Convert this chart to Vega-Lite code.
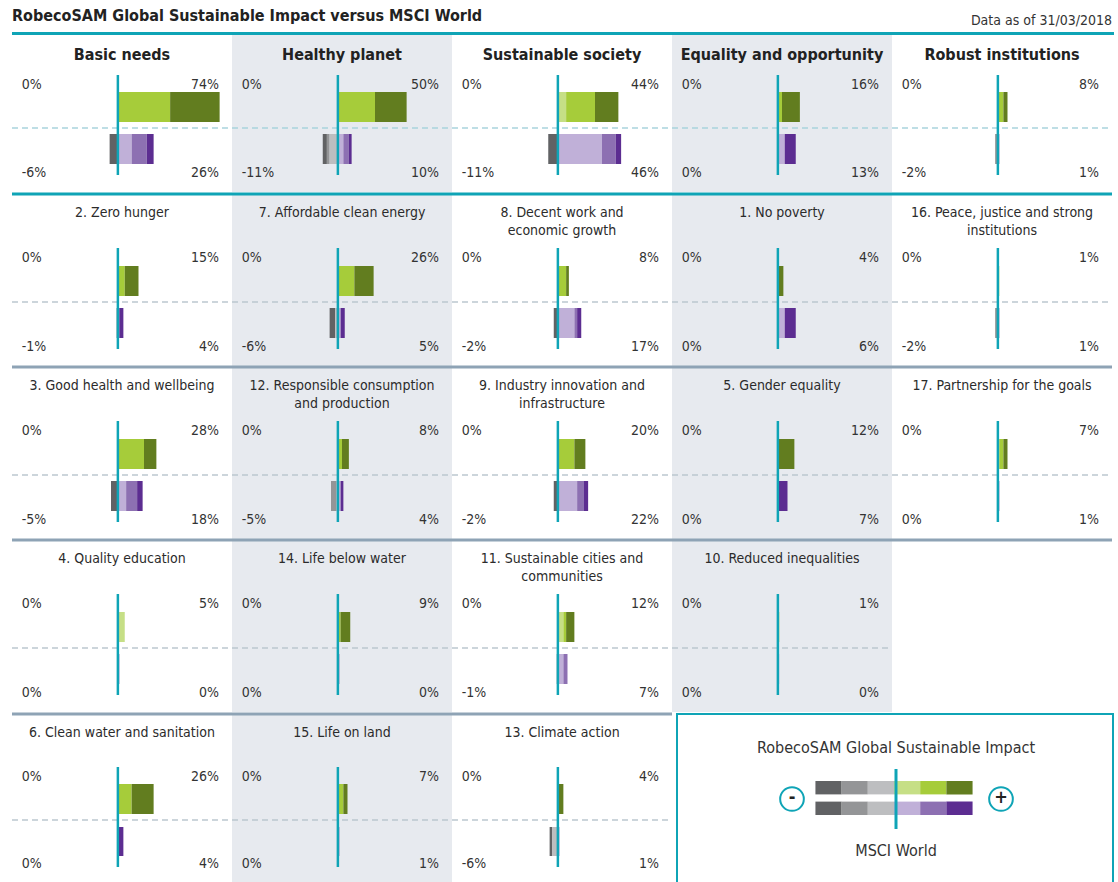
{
  "$schema": "https://vega.github.io/schema/vega-lite/v6.json",
  "padding": {"left": 10, "top": 0, "right": 0, "bottom": 0},
  "background": "white",
  "spacing": 0,
  "datasets": {
    "panels": [
      {"r":1,"c":1,"t":"Basic needs","a":"0%","b":"74%","m":"-6%","n":"26%"},
      {"r":1,"c":2,"t":"Healthy planet","a":"0%","b":"50%","m":"-11%","n":"10%"},
      {"r":1,"c":3,"t":"Sustainable society","a":"0%","b":"44%","m":"-11%","n":"46%"},
      {"r":1,"c":4,"t":"Equality and opportunity","a":"0%","b":"16%","m":"0%","n":"13%"},
      {"r":1,"c":5,"t":"Robust institutions","a":"0%","b":"8%","m":"-2%","n":"1%"},
      {"r":2,"c":1,"t":"2. Zero hunger","a":"0%","b":"15%","m":"-1%","n":"4%"},
      {"r":2,"c":2,"t":"7. Affordable clean energy","a":"0%","b":"26%","m":"-6%","n":"5%"},
      {"r":2,"c":3,"t":"8. Decent work and\neconomic growth","a":"0%","b":"8%","m":"-2%","n":"17%"},
      {"r":2,"c":4,"t":"1. No poverty","a":"0%","b":"4%","m":"0%","n":"6%"},
      {"r":2,"c":5,"t":"16. Peace, justice and strong\ninstitutions","a":"0%","b":"1%","m":"-2%","n":"1%"},
      {"r":3,"c":1,"t":"3. Good health and wellbeing","a":"0%","b":"28%","m":"-5%","n":"18%"},
      {"r":3,"c":2,"t":"12. Responsible consumption\nand production","a":"0%","b":"8%","m":"-5%","n":"4%"},
      {"r":3,"c":3,"t":"9. Industry innovation and\ninfrastructure","a":"0%","b":"20%","m":"-2%","n":"22%"},
      {"r":3,"c":4,"t":"5. Gender equality","a":"0%","b":"12%","m":"0%","n":"7%"},
      {"r":3,"c":5,"t":"17. Partnership for the goals","a":"0%","b":"7%","m":"0%","n":"1%"},
      {"r":4,"c":1,"t":"4. Quality education","a":"0%","b":"5%","m":"0%","n":"0%"},
      {"r":4,"c":2,"t":"14. Life below water","a":"0%","b":"9%","m":"0%","n":"0%"},
      {"r":4,"c":3,"t":"11. Sustainable cities and\ncommunities","a":"0%","b":"12%","m":"-1%","n":"7%"},
      {"r":4,"c":4,"t":"10. Reduced inequalities","a":"0%","b":"1%","m":"0%","n":"0%"},
      {"r":4,"c":5,"t":""},
      {"r":5,"c":1,"t":"6. Clean water and sanitation","a":"0%","b":"26%","m":"0%","n":"4%"},
      {"r":5,"c":2,"t":"15. Life on land","a":"0%","b":"7%","m":"0%","n":"1%"},
      {"r":5,"c":3,"t":"13. Climate action","a":"0%","b":"4%","m":"-6%","n":"1%"},

      {"r":1,"c":1,"s":"R","k":"g2","v":38},{"r":1,"c":1,"s":"R","k":"g3","v":36},
      {"r":1,"c":1,"s":"M","k":"n3","v":-6},{"r":1,"c":1,"s":"M","k":"u1","v":10},{"r":1,"c":1,"s":"M","k":"u2","v":11},{"r":1,"c":1,"s":"M","k":"u3","v":5},
      {"r":1,"c":2,"s":"R","k":"g2","v":27},{"r":1,"c":2,"s":"R","k":"g3","v":23},
      {"r":1,"c":2,"s":"M","k":"n3","v":-3},{"r":1,"c":2,"s":"M","k":"n2","v":-2},{"r":1,"c":2,"s":"M","k":"n1","v":-6},{"r":1,"c":2,"s":"M","k":"u1","v":4},{"r":1,"c":2,"s":"M","k":"u2","v":4},{"r":1,"c":2,"s":"M","k":"u3","v":2},
      {"r":1,"c":3,"s":"R","k":"g1","v":6},{"r":1,"c":3,"s":"R","k":"g2","v":21},{"r":1,"c":3,"s":"R","k":"g3","v":17},
      {"r":1,"c":3,"s":"M","k":"n3","v":-7},{"r":1,"c":3,"s":"M","k":"u1","v":32},{"r":1,"c":3,"s":"M","k":"u2","v":10},{"r":1,"c":3,"s":"M","k":"u3","v":4},
      {"r":1,"c":4,"s":"R","k":"g2","v":3},{"r":1,"c":4,"s":"R","k":"g3","v":13},
      {"r":1,"c":4,"s":"M","k":"u1","v":5},{"r":1,"c":4,"s":"M","k":"u3","v":8},
      {"r":1,"c":5,"s":"R","k":"g2","v":4},{"r":1,"c":5,"s":"R","k":"g3","v":3},
      {"r":1,"c":5,"s":"M","k":"n2","v":-2},{"r":1,"c":5,"s":"M","k":"u3","v":1},
      {"r":2,"c":1,"s":"R","k":"g2","v":5},{"r":2,"c":1,"s":"R","k":"g3","v":10},
      {"r":2,"c":1,"s":"M","k":"n2","v":-1},{"r":2,"c":1,"s":"M","k":"u1","v":1},{"r":2,"c":1,"s":"M","k":"u3","v":3},
      {"r":2,"c":2,"s":"R","k":"g2","v":12},{"r":2,"c":2,"s":"R","k":"g3","v":14},
      {"r":2,"c":2,"s":"M","k":"n3","v":-4},{"r":2,"c":2,"s":"M","k":"n1","v":-2},{"r":2,"c":2,"s":"M","k":"u1","v":2},{"r":2,"c":2,"s":"M","k":"u3","v":3},
      {"r":2,"c":3,"s":"R","k":"g2","v":6},{"r":2,"c":3,"s":"R","k":"g3","v":2},
      {"r":2,"c":3,"s":"M","k":"n3","v":-3},{"r":2,"c":3,"s":"M","k":"u1","v":12},{"r":2,"c":3,"s":"M","k":"u2","v":2},{"r":2,"c":3,"s":"M","k":"u3","v":3},
      {"r":2,"c":4,"s":"R","k":"g3","v":4},
      {"r":2,"c":4,"s":"M","k":"u1","v":5},{"r":2,"c":4,"s":"M","k":"u3","v":8},
      {"r":2,"c":5,"s":"R","k":"g2","v":1},
      {"r":2,"c":5,"s":"M","k":"n2","v":-2},{"r":2,"c":5,"s":"M","k":"u3","v":1},
      {"r":3,"c":1,"s":"R","k":"g2","v":19},{"r":3,"c":1,"s":"R","k":"g3","v":9},
      {"r":3,"c":1,"s":"M","k":"n3","v":-5},{"r":3,"c":1,"s":"M","k":"u1","v":6},{"r":3,"c":1,"s":"M","k":"u2","v":8},{"r":3,"c":1,"s":"M","k":"u3","v":4},
      {"r":3,"c":2,"s":"R","k":"g2","v":3},{"r":3,"c":2,"s":"R","k":"g3","v":5},
      {"r":3,"c":2,"s":"M","k":"n2","v":-4},{"r":3,"c":2,"s":"M","k":"n1","v":-1},{"r":3,"c":2,"s":"M","k":"u1","v":2},{"r":3,"c":2,"s":"M","k":"u3","v":2},
      {"r":3,"c":3,"s":"R","k":"g2","v":12},{"r":3,"c":3,"s":"R","k":"g3","v":8},
      {"r":3,"c":3,"s":"M","k":"n3","v":-3},{"r":3,"c":3,"s":"M","k":"u1","v":14},{"r":3,"c":3,"s":"M","k":"u2","v":5},{"r":3,"c":3,"s":"M","k":"u3","v":3},
      {"r":3,"c":4,"s":"R","k":"g3","v":12},
      {"r":3,"c":4,"s":"M","k":"u3","v":7},
      {"r":3,"c":5,"s":"R","k":"g1","v":1},{"r":3,"c":5,"s":"R","k":"g2","v":3},{"r":3,"c":5,"s":"R","k":"g3","v":3},
      {"r":3,"c":5,"s":"M","k":"u3","v":1},
      {"r":4,"c":1,"s":"R","k":"g1","v":5},
      {"r":4,"c":1,"s":"M","k":"u3","v":1},
      {"r":4,"c":2,"s":"R","k":"g2","v":2},{"r":4,"c":2,"s":"R","k":"g3","v":7},
      {"r":4,"c":2,"s":"M","k":"u3","v":1},
      {"r":4,"c":3,"s":"R","k":"g1","v":4},{"r":4,"c":3,"s":"R","k":"g2","v":2},{"r":4,"c":3,"s":"R","k":"g3","v":6},
      {"r":4,"c":3,"s":"M","k":"n1","v":-1},{"r":4,"c":3,"s":"M","k":"u1","v":4},{"r":4,"c":3,"s":"M","k":"u2","v":3},
      {"r":4,"c":4,"s":"R","k":"g2","v":1},
      {"r":4,"c":4,"s":"M","k":"u1","v":1},
      {"r":5,"c":1,"s":"R","k":"g2","v":10},{"r":5,"c":1,"s":"R","k":"g3","v":16},
      {"r":5,"c":1,"s":"M","k":"u3","v":4},
      {"r":5,"c":2,"s":"R","k":"g2","v":4},{"r":5,"c":2,"s":"R","k":"g3","v":3},
      {"r":5,"c":2,"s":"M","k":"u3","v":1},
      {"r":5,"c":3,"s":"R","k":"g3","v":4},
      {"r":5,"c":3,"s":"M","k":"n3","v":-2},{"r":5,"c":3,"s":"M","k":"n1","v":-4},{"r":5,"c":3,"s":"M","k":"u3","v":1}
    ],
    "legend": [
      {"s":"R","b":"n3","k":"n3"},{"s":"R","b":"n2","k":"n2"},{"s":"R","b":"n1","k":"n1"},
      {"s":"R","b":"p1","k":"g1"},{"s":"R","b":"p2","k":"g2"},{"s":"R","b":"p3","k":"g3"},
      {"s":"M","b":"n3","k":"n3"},{"s":"M","b":"n2","k":"n2"},{"s":"M","b":"n1","k":"n1"},
      {"s":"M","b":"p1","k":"u1"},{"s":"M","b":"p2","k":"u2"},{"s":"M","b":"p3","k":"u3"}
    ]
  },
  "vconcat": [
    {
      "width": 1100, "height": 35,
      "data": {"values": [{}]},
      "layer": [
        {"mark": {"type": "text", "align": "left", "baseline": "middle", "fontSize": 16, "fontWeight": "bold", "color": "#222222"},
         "encoding": {
           "x": {"datum": 0, "scale": {"domain": [0, 1100], "nice": false, "zero": false}, "axis": null},
           "y": {"datum": 19, "scale": {"domain": [0, 35], "nice": false, "zero": false}, "axis": null},
           "text": {"value": "RobecoSAM Global Sustainable Impact versus MSCI World"}}},
        {"mark": {"type": "text", "align": "right", "baseline": "middle", "fontSize": 14, "color": "#333333"},
         "encoding": {"x": {"datum": 1100}, "y": {"datum": 14}, "text": {"value": "Data as of 31/03/2018"}}},
        {"mark": {"type": "rule", "strokeWidth": 3, "color": "#0fa4b6"},
         "encoding": {"x": {"datum": 0}, "x2": {"datum": 1102}, "y": {"datum": 1.5}}}
      ]
    },
    {
      "data": {"name": "panels"},
      "transform": [{"filter": "datum.r == 1"}],
      "facet": {"column": {"field": "c", "type": "ordinal", "header": null}},
      "spacing": {"row": 0, "column": 0},
      "bounds": "flush",
      "spec": {
        "width": 220, "height": 157,
        "layer": [
          {"transform": [{"filter": "isValid(datum.t) && (datum.c == 2 || datum.c == 4)"}],
           "mark": {"type": "rect", "color": "#e7eaef"},
           "encoding": {
             "x": {"datum": -77, "scale": {"domain": [-77, 83], "nice": false, "zero": false}, "axis": null},
             "x2": {"datum": 83},
             "y": {"datum": 0, "scale": {"domain": [0, 157], "nice": false, "zero": false}, "axis": null},
             "y2": {"datum": 157}}},
          {"transform": [{"filter": "isValid(datum.a)"}],
           "mark": {"type": "rule", "strokeDash": [6, 4], "strokeWidth": 1.5, "color": "#a9d4dd"},
           "encoding": {"x": {"datum": -77}, "x2": {"datum": 83}, "y": {"datum": 64}}},
          {"transform": [{"filter": "datum.s == 'R'"}, {"stack": "v", "groupby": ["r", "c"], "sort": [{"field": "k"}], "as": ["v0", "v1"], "offset": "zero"}],
           "mark": {"type": "rect"},
           "encoding": {
             "x": {"field": "v0", "type": "quantitative"}, "x2": {"field": "v1"},
             "y": {"datum": 70}, "y2": {"datum": 100},
             "color": {"field": "k", "type": "nominal", "legend": null,
               "scale": {"domain": ["n3","n2","n1","g1","g2","g3","u1","u2","u3"], "range": ["#616264","#949597","#bdbec0","#c6df86","#a6cc3a","#627d1f","#c0b0d8","#8d70b2","#5c2d91"]}}}},
          {"transform": [{"filter": "datum.s == 'M'"}, {"stack": "v", "groupby": ["r", "c"], "sort": [{"field": "k"}], "as": ["v0", "v1"], "offset": "zero"}],
           "mark": {"type": "rect"},
           "encoding": {
             "x": {"field": "v0", "type": "quantitative"}, "x2": {"field": "v1"},
             "y": {"datum": 28}, "y2": {"datum": 58},
             "color": {"field": "k", "type": "nominal", "legend": null}}},
          {"transform": [{"filter": "isValid(datum.a)"}],
           "mark": {"type": "rule", "strokeWidth": 2.5, "color": "#0fa4b6"},
           "encoding": {"x": {"datum": 0}, "y": {"datum": 17}, "y2": {"datum": 117}}},
          {"transform": [{"filter": "isValid(datum.t)"}],
           "mark": {"type": "text", "baseline": "top", "lineBreak": "\n", "fontSize": 16, "fontWeight": "bold", "lineHeight": 18, "color": "#222222"},
           "encoding": {"x": {"datum": 3}, "y": {"datum": 145}, "text": {"field": "t"}}},
          {"transform": [{"filter": "isValid(datum.a)"}],
           "mark": {"type": "text", "align": "left", "baseline": "middle", "fontSize": 14, "color": "#333333"},
           "encoding": {"x": {"datum": -70}, "y": {"datum": 107}, "text": {"field": "a"}}},
          {"transform": [{"filter": "isValid(datum.a)"}],
           "mark": {"type": "text", "align": "right", "baseline": "middle", "fontSize": 14, "color": "#333333"},
           "encoding": {"x": {"datum": 73.5}, "y": {"datum": 107}, "text": {"field": "b"}}},
          {"transform": [{"filter": "isValid(datum.a)"}],
           "mark": {"type": "text", "align": "left", "baseline": "middle", "fontSize": 14, "color": "#333333"},
           "encoding": {"x": {"datum": -70}, "y": {"datum": 19}, "text": {"field": "m"}}},
          {"transform": [{"filter": "isValid(datum.a)"}],
           "mark": {"type": "text", "align": "right", "baseline": "middle", "fontSize": 14, "color": "#333333"},
           "encoding": {"x": {"datum": 73.5}, "y": {"datum": 19}, "text": {"field": "n"}}}
        ]
      }
    },
    {
      "data": {"name": "panels"},
      "transform": [{"filter": "datum.r >= 2 && datum.r <= 4"}],
      "facet": {"row": {"field": "r", "type": "ordinal", "header": null}, "column": {"field": "c", "type": "ordinal", "header": null}},
      "spacing": {"row": 0, "column": 0},
      "bounds": "flush",
      "spec": {
        "width": 220, "height": 173,
        "layer": [
          {"transform": [{"filter": "isValid(datum.t) && (datum.c == 2 || datum.c == 4)"}],
           "mark": {"type": "rect", "color": "#e7eaef"},
           "encoding": {
             "x": {"datum": -77, "scale": {"domain": [-77, 83], "nice": false, "zero": false}, "axis": null},
             "x2": {"datum": 83},
             "y": {"datum": 0, "scale": {"domain": [0, 173], "nice": false, "zero": false}, "axis": null},
             "y2": {"datum": 173}}},
          {"transform": [{"filter": "isValid(datum.t)"}],
           "mark": {"type": "rule", "strokeWidth": 3},
           "encoding": {"x": {"datum": -77}, "x2": {"datum": 83}, "y": {"datum": 172},
             "stroke": {"condition": {"test": "datum.r == 2", "value": "#0fa4b6"}, "value": "#8ea3b5"}}},
          {"transform": [{"filter": "isValid(datum.a)"}],
           "mark": {"type": "rule", "strokeDash": [6, 4], "strokeWidth": 1.5, "color": "#bcc7cf"},
           "encoding": {"x": {"datum": -77}, "x2": {"datum": 83}, "y": {"datum": 64}}},
          {"transform": [{"filter": "datum.s == 'R'"}, {"stack": "v", "groupby": ["r", "c"], "sort": [{"field": "k"}], "as": ["v0", "v1"], "offset": "zero"}],
           "mark": {"type": "rect"},
           "encoding": {
             "x": {"field": "v0", "type": "quantitative"}, "x2": {"field": "v1"},
             "y": {"datum": 70}, "y2": {"datum": 100},
             "color": {"field": "k", "type": "nominal", "legend": null,
               "scale": {"domain": ["n3","n2","n1","g1","g2","g3","u1","u2","u3"], "range": ["#616264","#949597","#bdbec0","#c6df86","#a6cc3a","#627d1f","#c0b0d8","#8d70b2","#5c2d91"]}}}},
          {"transform": [{"filter": "datum.s == 'M'"}, {"stack": "v", "groupby": ["r", "c"], "sort": [{"field": "k"}], "as": ["v0", "v1"], "offset": "zero"}],
           "mark": {"type": "rect"},
           "encoding": {
             "x": {"field": "v0", "type": "quantitative"}, "x2": {"field": "v1"},
             "y": {"datum": 28}, "y2": {"datum": 58},
             "color": {"field": "k", "type": "nominal", "legend": null}}},
          {"transform": [{"filter": "isValid(datum.a)"}],
           "mark": {"type": "rule", "strokeWidth": 2.5, "color": "#0fa4b6"},
           "encoding": {"x": {"datum": 0}, "y": {"datum": 17}, "y2": {"datum": 118}}},
          {"transform": [{"filter": "isValid(datum.t)"}],
           "mark": {"type": "text", "baseline": "top", "lineBreak": "\n", "fontSize": 14, "lineHeight": 18, "color": "#2b2b2b"},
           "encoding": {"x": {"datum": 3}, "y": {"datum": 160}, "text": {"field": "t"}}},
          {"transform": [{"filter": "isValid(datum.a)"}],
           "mark": {"type": "text", "align": "left", "baseline": "middle", "fontSize": 14, "color": "#333333"},
           "encoding": {"x": {"datum": -70}, "y": {"datum": 108}, "text": {"field": "a"}}},
          {"transform": [{"filter": "isValid(datum.a)"}],
           "mark": {"type": "text", "align": "right", "baseline": "middle", "fontSize": 14, "color": "#333333"},
           "encoding": {"x": {"datum": 73.5}, "y": {"datum": 108}, "text": {"field": "b"}}},
          {"transform": [{"filter": "isValid(datum.a)"}],
           "mark": {"type": "text", "align": "left", "baseline": "middle", "fontSize": 14, "color": "#333333"},
           "encoding": {"x": {"datum": -70}, "y": {"datum": 19}, "text": {"field": "m"}}},
          {"transform": [{"filter": "isValid(datum.a)"}],
           "mark": {"type": "text", "align": "right", "baseline": "middle", "fontSize": 14, "color": "#333333"},
           "encoding": {"x": {"datum": 73.5}, "y": {"datum": 19}, "text": {"field": "n"}}}
        ]
      }
    },
    {
      "hconcat": [
        {
          "data": {"name": "panels"},
          "transform": [{"filter": "datum.r == 5"}],
          "facet": {"column": {"field": "c", "type": "ordinal", "header": null}},
          "spacing": {"row": 0, "column": 0},
          "bounds": "flush",
          "spec": {
            "width": 220, "height": 170,
            "layer": [
              {"transform": [{"filter": "isValid(datum.t) && (datum.c == 2 || datum.c == 4)"}],
               "mark": {"type": "rect", "color": "#e7eaef"},
               "encoding": {
                 "x": {"datum": -77, "scale": {"domain": [-77, 83], "nice": false, "zero": false}, "axis": null},
                 "x2": {"datum": 83},
                 "y": {"datum": 0, "scale": {"domain": [0, 170], "nice": false, "zero": false}, "axis": null},
                 "y2": {"datum": 170}}},
              {"transform": [{"filter": "isValid(datum.t)"}],
               "mark": {"type": "rule", "strokeWidth": 3, "color": "#8ea3b5"},
               "encoding": {"x": {"datum": -77}, "x2": {"datum": 83}, "y": {"datum": 169}}},
              {"transform": [{"filter": "isValid(datum.a)"}],
               "mark": {"type": "rule", "strokeDash": [6, 4], "strokeWidth": 1.5, "color": "#bcc7cf"},
               "encoding": {"x": {"datum": -77}, "x2": {"datum": 83}, "y": {"datum": 63}}},
              {"transform": [{"filter": "datum.s == 'R'"}, {"stack": "v", "groupby": ["r", "c"], "sort": [{"field": "k"}], "as": ["v0", "v1"], "offset": "zero"}],
               "mark": {"type": "rect"},
               "encoding": {
                 "x": {"field": "v0", "type": "quantitative"}, "x2": {"field": "v1"},
                 "y": {"datum": 69}, "y2": {"datum": 99},
                 "color": {"field": "k", "type": "nominal", "legend": null,
                   "scale": {"domain": ["n3","n2","n1","g1","g2","g3","u1","u2","u3"], "range": ["#616264","#949597","#bdbec0","#c6df86","#a6cc3a","#627d1f","#c0b0d8","#8d70b2","#5c2d91"]}}}},
              {"transform": [{"filter": "datum.s == 'M'"}, {"stack": "v", "groupby": ["r", "c"], "sort": [{"field": "k"}], "as": ["v0", "v1"], "offset": "zero"}],
               "mark": {"type": "rect"},
               "encoding": {
                 "x": {"field": "v0", "type": "quantitative"}, "x2": {"field": "v1"},
                 "y": {"datum": 27}, "y2": {"datum": 56},
                 "color": {"field": "k", "type": "nominal", "legend": null}}},
              {"transform": [{"filter": "isValid(datum.a)"}],
               "mark": {"type": "rule", "strokeWidth": 2.5, "color": "#0fa4b6"},
               "encoding": {"x": {"datum": 0}, "y": {"datum": 16}, "y2": {"datum": 116}}},
              {"transform": [{"filter": "isValid(datum.t)"}],
               "mark": {"type": "text", "baseline": "top", "lineBreak": "\n", "fontSize": 14, "lineHeight": 18, "color": "#2b2b2b"},
               "encoding": {"x": {"datum": 3}, "y": {"datum": 157}, "text": {"field": "t"}}},
              {"transform": [{"filter": "isValid(datum.a)"}],
               "mark": {"type": "text", "align": "left", "baseline": "middle", "fontSize": 14, "color": "#333333"},
               "encoding": {"x": {"datum": -70}, "y": {"datum": 106}, "text": {"field": "a"}}},
              {"transform": [{"filter": "isValid(datum.a)"}],
               "mark": {"type": "text", "align": "right", "baseline": "middle", "fontSize": 14, "color": "#333333"},
               "encoding": {"x": {"datum": 73.5}, "y": {"datum": 106}, "text": {"field": "b"}}},
              {"transform": [{"filter": "isValid(datum.a)"}],
               "mark": {"type": "text", "align": "left", "baseline": "middle", "fontSize": 14, "color": "#333333"},
               "encoding": {"x": {"datum": -70}, "y": {"datum": 19}, "text": {"field": "m"}}},
              {"transform": [{"filter": "isValid(datum.a)"}],
               "mark": {"type": "text", "align": "right", "baseline": "middle", "fontSize": 14, "color": "#333333"},
               "encoding": {"x": {"datum": 73.5}, "y": {"datum": 19}, "text": {"field": "n"}}}
            ]
          }
        },
        {
          "width": 440, "height": 170,
          "data": {"name": "legend"},
          "layer": [
            {"mark": {"type": "rect"},
             "encoding": {
               "x": {"field": "b", "type": "ordinal", "axis": null,
                 "scale": {"domain": ["l1","l2","l3","l4","l5","n3","n2","n1","p1","p2","p3","r1","r2","r3","r4","r5"], "paddingInner": 0, "paddingOuter": 0.4}},
               "y": {"field": "s", "type": "nominal", "axis": null,
                 "scale": {"domain": ["t1","t2","t3","R","M","b1","b2","b3"], "paddingInner": 0.35, "paddingOuter": 0.3}},
               "color": {"field": "k", "type": "nominal", "legend": null,
                 "scale": {"domain": ["n3","n2","n1","g1","g2","g3","u1","u2","u3"], "range": ["#616264","#949597","#bdbec0","#c6df86","#a6cc3a","#627d1f","#c0b0d8","#8d70b2","#5c2d91"]}}}},
            {
              "data": {"values": [{}]},
              "layer": [
                {"mark": {"type": "rect", "fillOpacity": 0, "stroke": "#0fa4b6", "strokeWidth": 2},
                 "encoding": {
                   "x": {"datum": 3, "scale": {"domain": [0, 440], "nice": false, "zero": false}, "axis": null},
                   "x2": {"datum": 439},
                   "y": {"datum": 0, "scale": {"domain": [0, 170], "nice": false, "zero": false}, "axis": null},
                   "y2": {"datum": 169}}},
                {"mark": {"type": "rule", "strokeWidth": 3, "color": "#0fa4b6"},
                 "encoding": {"x": {"datum": 222}, "y": {"datum": 54}, "y2": {"datum": 114}}},
                {"mark": {"type": "text", "align": "center", "baseline": "middle", "fontSize": 16, "color": "#333333"},
                 "encoding": {"x": {"datum": 222}, "y": {"datum": 135}, "text": {"value": "RobecoSAM Global Sustainable Impact"}}},
                {"mark": {"type": "text", "align": "center", "baseline": "middle", "fontSize": 16, "color": "#333333"},
                 "encoding": {"x": {"datum": 222}, "y": {"datum": 32}, "text": {"value": "MSCI World"}}},
                {"mark": {"type": "point", "filled": false, "shape": "circle", "size": 560, "stroke": "#0fa4b6", "strokeWidth": 2, "opacity": 1},
                 "encoding": {"x": {"datum": 118}, "y": {"datum": 84}}},
                {"mark": {"type": "point", "filled": false, "shape": "circle", "size": 560, "stroke": "#0fa4b6", "strokeWidth": 2, "opacity": 1},
                 "encoding": {"x": {"datum": 327}, "y": {"datum": 84}}},
                {"mark": {"type": "text", "align": "center", "baseline": "middle", "fontSize": 18, "fontWeight": "bold", "color": "#222222"},
                 "encoding": {"x": {"datum": 118}, "y": {"datum": 85}, "text": {"value": "-"}}},
                {"mark": {"type": "text", "align": "center", "baseline": "middle", "fontSize": 18, "fontWeight": "bold", "color": "#222222"},
                 "encoding": {"x": {"datum": 327}, "y": {"datum": 85}, "text": {"value": "+"}}}
              ]
            }
          ],
          "resolve": {"scale": {"x": "independent", "y": "independent"}}
        }
      ],
      "spacing": 0
    }
  ],
  "config": {
    "view": {"stroke": null},
    "font": "'Liberation Sans Narrow', 'DejaVu Sans Condensed', 'Open Sans', sans-serif",
    "text": {"font": "'Liberation Sans Narrow', 'DejaVu Sans Condensed', 'Open Sans', sans-serif"}
  }
}
